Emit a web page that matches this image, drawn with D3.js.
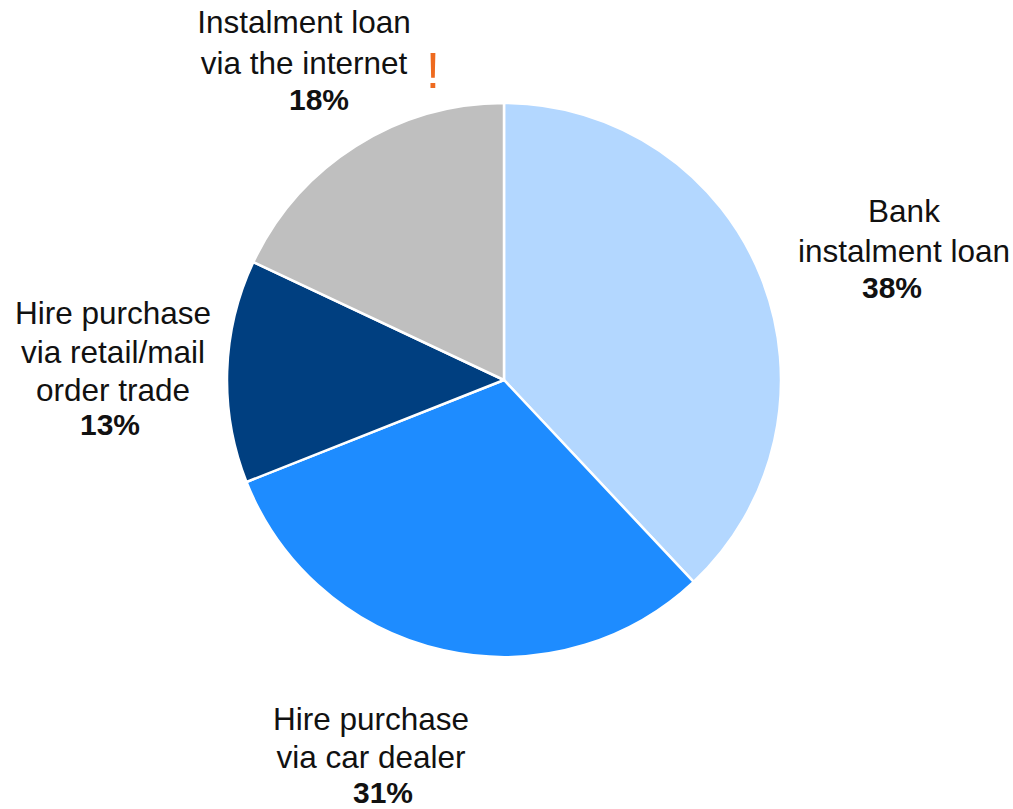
<!DOCTYPE html>
<html>
<head>
<meta charset="utf-8">
<script src="https://cdn.jsdelivr.net/npm/d3@7"></script>
<style>
  html, body { margin: 0; padding: 0; background: #fff; }
  svg { display: block; }
  text { font-family: "Liberation Sans", Arial, sans-serif; fill: #111; }
</style>
</head>
<body>
<svg id="chart" width="1013" height="809"></svg>
<script>
// Shares of instalment credit by channel (percent), clockwise from 12 o'clock
const categories = [
  "Bank instalment loan",
  "Hire purchase via car dealer",
  "Hire purchase via retail/mail order trade",
  "Instalment loan via the internet"
];
const shares = [38, 31, 13, 18];
const colors = ["#b3d7ff", "#1e8cff", "#003f80", "#bfbfbf"];

// Label text lines for each slice
const labelLines = [
  ["Bank", "instalment loan"],
  ["Hire purchase", "via car dealer"],
  ["Hire purchase", "via retail/mail", "order trade"],
  ["Instalment loan", "via the internet"]
];

const svg = d3.select("#chart");
const cx = 504, cy = 380, radius = 277;

const pie = d3.pie().sort(null).value(d => d);
const arc = d3.arc().innerRadius(0).outerRadius(radius);
const arcs = pie(shares);

const g = svg.append("g").attr("transform", `translate(${cx},${cy})`);
g.selectAll("path")
  .data(arcs)
  .join("path")
  .attr("d", arc)
  .attr("fill", (d, i) => colors[i])
  .attr("stroke", "#fff")
  .attr("stroke-width", 2.5)
  .attr("stroke-linejoin", "round");

// Label placement: text block centre x, baselines and percentage position
const labelLayout = [
  { x: 904, ys: [222, 262], px: 892, py: 298 },
  { x: 371, ys: [730, 768], px: 383, py: 803 },
  { x: 113, ys: [324, 363, 401], px: 110, py: 435 },
  { x: 304, ys: [33, 74], px: 319, py: 110 }
];

const labels = svg.append("g");
labelLayout.forEach((pos, i) => {
  labelLines[i].forEach((line, j) => {
    labels.append("text")
      .attr("x", pos.x)
      .attr("y", pos.ys[j])
      .attr("text-anchor", "middle")
      .attr("font-size", 31.5)
      .text(line);
  });
  labels.append("text")
    .attr("x", pos.px)
    .attr("y", pos.py)
    .attr("text-anchor", "middle")
    .attr("font-size", 30)
    .attr("font-weight", "bold")
    .text(d3.format("d")(arcs[i].data) + "%");
});

// Highlight marker next to the internet channel
labels.append("text")
  .attr("x", 433)
  .attr("y", 88)
  .attr("text-anchor", "middle")
  .attr("font-size", 50)
  .style("fill", "#ee6a1f")
  .text("!");
</script>
</body>
</html>
